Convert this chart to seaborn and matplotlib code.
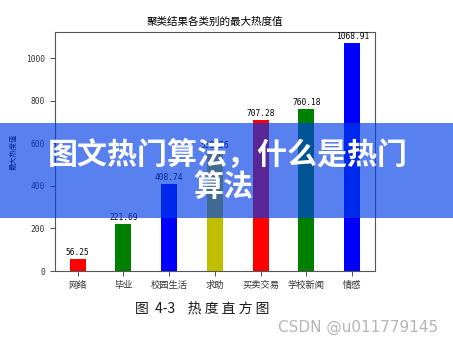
import matplotlib
matplotlib.use("Agg")
import matplotlib.pyplot as plt
import seaborn as sns
import pandas as pd
from matplotlib.patches import Rectangle

categories = ["网络", "毕业", "校园生活", "求助", "买卖交易", "学校新闻", "情感"]
values = [56.25, 221.69, 408.74, 558.36, 707.28, 760.18, 1068.91]
bar_colors = ["r", "g", "b", "y", "r", "g", "b"]
yticks = [0, 200, 400, 600, 800, 1000]
title = "聚类结果各类别的最大热度值"
ylabel = "最大热度值"
caption = "图  4-3    热 度 直 方 图"
banner_line1 = "图文热门算法，什么是热门"
banner_line2 = "算法"
watermark = "CSDN @u011779145"

cjk = ["Noto Sans CJK SC", "DejaVu Sans"]
mono = ["DejaVu Sans Mono"]

df = pd.DataFrame({"cat": categories, "val": values})

fig = plt.figure(figsize=(4.53, 3.42), dpi=100)
fig.patch.set_facecolor("white")
ax = fig.add_axes([0.121, 0.2076, 0.707, 0.699])

sns.barplot(data=df, x="cat", y="val", hue="cat", palette=bar_colors,
            width=0.35, legend=False, ax=ax, saturation=1)
ax.set_ylim(0, max(values) * 1.05)
ax.set_yticks(yticks)
ax.set_yticklabels([str(t) for t in yticks], family=mono, fontsize=5.7)
ax.set_xticks(range(len(categories)))
ax.set_xticklabels(categories, family=cjk, fontsize=6.7)
ax.set_xlabel("")
ax.set_ylabel(ylabel, family=cjk, fontsize=5.2, labelpad=6)
ax.set_title(title, family=cjk, fontsize=7.6, pad=5)
for c in ax.containers:
    ax.bar_label(c, fmt="%.2f", padding=1.5, fontsize=5.7, family=mono)
for s in ax.spines.values():
    s.set_color("#555555")
    s.set_linewidth(0.8)
ax.tick_params(colors="#333333", width=0.6)

fig.text(0.446, 0.098, caption, family=cjk, fontsize=10, ha="center", va="center",
         color="#1a1a1a", fontweight="medium")
fig.text(0.968, 0.044, watermark, family=["DejaVu Sans"], fontsize=11,
         ha="right", va="center", color="#b5b5b5")

banner = Rectangle((0, 0.3626), 1, 0.278, transform=fig.transFigure,
                   facecolor=(0, 61 / 255, 229 / 255), alpha=0.655,
                   edgecolor="none", zorder=10)
fig.add_artist(banner)
fig.text(0.502, 0.547, banner_line1, family=cjk, fontsize=21.6, fontweight="bold",
         color="white", ha="center", va="center", zorder=11)
fig.text(0.493, 0.452, banner_line2, family=cjk, fontsize=21.6, fontweight="bold",
         color="white", ha="center", va="center", zorder=11)

fig.savefig("out.png", dpi=100)
